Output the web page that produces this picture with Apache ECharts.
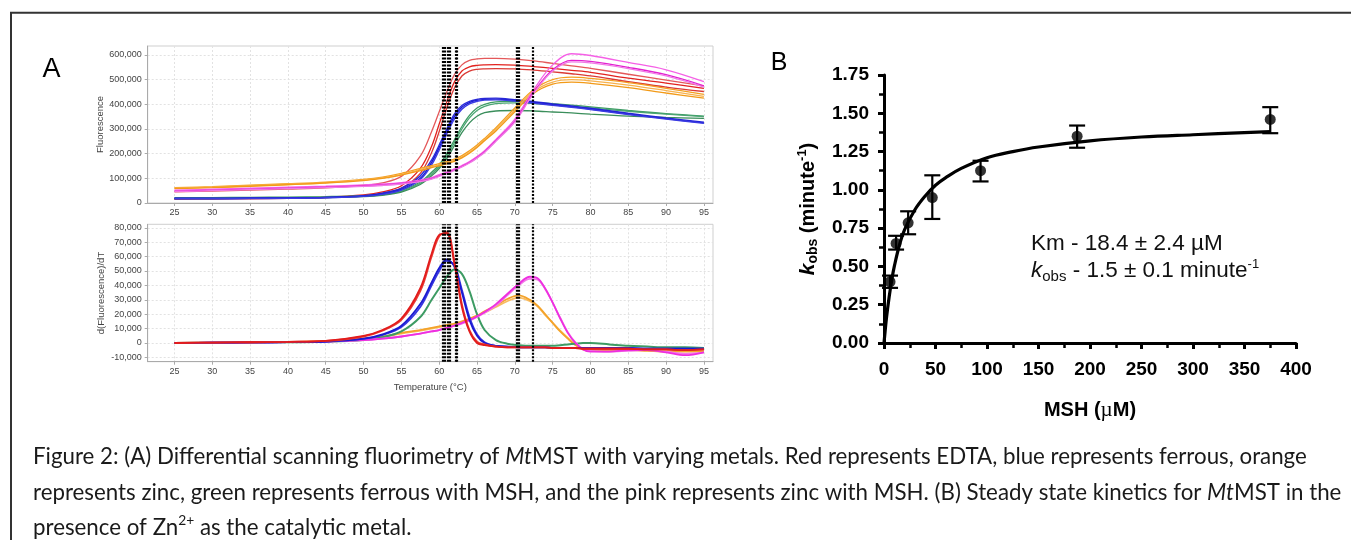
<!DOCTYPE html>
<html><head><meta charset="utf-8">
<script src="https://cdn.jsdelivr.net/npm/echarts@6/dist/echarts.min.js"></script>
<style>html,body{margin:0;padding:0;background:#fff}#c{width:1351px;height:540px}</style>
</head><body><div id="c"></div>
<script>
// ---------- Panel A: tick labels ----------
const tempTicks = [25,30,35,40,45,50,55,60,65,70,75,80,85,90,95];
const fluoTicks = [0,100,200,300,400,500,600];            // thousands
const derivTicks = [-10,0,10,20,30,40,50,60,70,80];       // thousands
const tmLines = [60.5,60.75,61.15,61.35,62.15,62.35,70.25,70.5,72.35];

// ---------- Panel A top: fluorescence (thousands) ----------
const T = [25,30,35,40,45,50,52.5,55,57.5,59,60,61,62,63,64,65,66,67.5,70,72.5,75,77.5,80,85,90,95];
const fRed1 = [45,48,52,56,61,72,82,108,190,290,370,450,520,560,578,584,586,586,583,576,566,556,546,522,498,475];
const fRed2 = [17,18,19,21,24,33,45,70,140,230,320,410,490,535,552,558,560,561,559,553,546,538,530,506,486,465];
const fRed3 = [15,16,17,19,22,30,40,60,120,205,290,385,465,515,535,542,544,545,544,539,532,524,515,492,470,452];
const fBlue1 = [19,19,20,21,23,30,40,60,110,175,235,300,360,395,412,420,424,425,419,411,402,393,384,364,345,328];
const fBlue2 = [18,18,19,20,22,28,37,55,100,165,225,290,350,388,407,416,420,421,416,408,399,390,381,361,342,325];
const fBlue3 = [17,17,18,19,21,27,35,52,95,155,215,280,340,380,402,412,417,418,413,405,396,388,379,359,340,323];
const fGreen1 = [22,22,23,24,26,30,36,50,85,125,155,200,255,310,355,385,400,410,412,408,403,397,390,375,362,352];
const fGreen2 = [20,20,21,22,24,28,34,47,80,118,148,190,245,300,345,375,392,403,406,403,398,392,386,372,360,350];
const fGreen3 = [18,18,19,20,22,26,31,44,75,110,140,180,232,285,325,352,366,373,375,373,369,365,360,352,347,343];
const fOrange1 = [62,66,72,78,85,96,105,120,140,152,160,168,178,192,212,235,262,305,385,460,500,510,505,488,465,440];
const fOrange2 = [60,64,70,76,83,93,102,116,135,147,155,163,173,187,206,229,256,298,377,452,490,500,495,478,456,432];
const fOrange3 = [58,62,68,74,81,91,100,113,131,143,151,159,169,183,202,225,252,292,370,445,482,490,485,468,446,425];
const fPink1 = [52,56,60,64,68,73,77,83,93,103,115,125,138,152,168,188,212,258,340,460,560,605,598,570,540,492];
const fPink2 = [48,52,56,60,64,69,73,79,89,99,110,121,134,148,164,184,208,253,332,450,540,578,574,550,520,475];
const fPink3 = [46,50,54,58,62,67,71,77,87,97,108,119,132,146,162,182,205,250,328,445,535,572,568,545,515,470];

// ---------- Panel A bottom: d(Fluorescence)/dT (thousands) ----------
const T2 = [25,30,35,40,45,50,52.5,55,57.5,59,60,61,62,63,64,65,66,67.5,69,70.5,72,73,74,75,76,77,78,79,80,82.5,85,87.5,90,92.5,95];
const dRed1 = [0,0.3,0.5,0.8,1.5,5,9,17,38,62,75,76,55,25,8,0,-1.5,-2.5,-3,-3,-3,-3,-3,-3.5,-3.5,-3.5,-3.5,-4,-4,-4,-4,-4.5,-4.5,-5,-4.5];
const dRed2 = [0,0.3,0.5,0.8,1.4,4.5,8.5,16,36,60,74,77,57,27,9,1,-1,-2.5,-3,-3,-3,-3,-3,-3.5,-3.5,-3.5,-3.5,-4,-4,-4,-4,-4.5,-4.5,-5,-4.5];
const dBlue1 = [0,0.2,0.4,0.6,1,3,6,12,27,42,52,58,53,35,16,5,0,-2,-2.5,-3,-3,-3,-3,-3.5,-3.5,-3.5,-3.5,-3.5,-3.5,-3.5,-3.5,-4,-4,-4,-4];
const dBlue2 = [0,0.2,0.4,0.6,1,2.8,5.5,11,25,40,50,57,54,37,18,6,0.5,-2,-2.5,-3,-3,-3,-3,-3.5,-3.5,-3.5,-3.5,-3.5,-3.5,-3.5,-3.5,-4,-4,-4,-4];
const dGreen = [0,0.2,0.3,0.5,0.8,2,4,8,18,30,38,46,51,48,36,20,9,2,-0.5,-1.5,-2,-2,-2,-2,-1.5,-1,-0.5,0,0,-1,-2,-2.5,-3,-3,-3.5];
const dOrange1 = [0,0.2,0.4,0.7,1.2,3,4.5,7,9,10.5,11.5,12.5,13.5,15,17,19,22,26,30.5,33,30,26,20,14,8,3,-1.5,-4.5,-5.5,-5.5,-5,-5.5,-6,-6,-6];
const dOrange2 = [0,0.2,0.4,0.7,1.2,2.8,4.2,6.5,8.5,10,11,12,13,14.5,16.5,18.5,21,25,29,31.5,29,25.5,19.5,14,8.5,3.5,-1,-4,-5,-5,-4.5,-5,-5.5,-5.5,-5.5];
const dPink1 = [0,0.2,0.4,0.6,1,2,3,4.5,6.5,8,9,10.5,12,14,16,18.5,21.5,27,34,41,46,45,38,28,17,7,0,-4.5,-6,-6,-5,-5,-6.5,-8.5,-6.5];
const dPink2 = [0,0.2,0.4,0.6,1,2,3,4.5,6.5,8,9,10.5,12,13.5,15.5,18,21,26,33,40,44.5,44,37.5,28,17.5,7.5,0.5,-4,-5.5,-6,-5.5,-5,-6,-7.5,-6.5];

// ---------- Panel B: steady-state kinetics ----------
const bX = [5.86, 11.72, 23.44, 46.88, 93.75, 187.5, 375];
const bY = [0.40, 0.65, 0.785, 0.95, 1.125, 1.35, 1.46];
const bLo = [0.36, 0.61, 0.71, 0.81, 1.055, 1.275, 1.37];
const bHi = [0.44, 0.70, 0.86, 1.095, 1.19, 1.42, 1.54];
const fitX = [0, 1, 2.5, 5, 7.5, 10, 15, 20, 30, 40, 50, 60, 75, 100, 125, 150, 200, 250, 300, 375];
const fitY = [0, 0.07, 0.17, 0.30, 0.41, 0.50, 0.64, 0.74, 0.87, 0.96, 1.03, 1.08, 1.14, 1.21, 1.25, 1.28, 1.32, 1.345, 1.36, 1.38];

// ---------- build ----------
const chart = echarts.init(document.getElementById('c'), null, {renderer: 'canvas'});
const SANS = '"Liberation Sans", Arial, sans-serif';
const gridLine = {show: true, lineStyle: {color: '#e2e2e2', type: [2, 2], width: 1}};
const smallLabel = {color: '#444', fontSize: 9, fontFamily: SANS};
const fmtK = v => (Math.round(v * 1000)).toLocaleString('en-US');

function aLine(x, arr, color, w, idx, extra) {
  return Object.assign({
    type: 'line', xAxisIndex: idx, yAxisIndex: idx,
    data: x.map((t, i) => [t, arr[i]]),
    smooth: 0.35, showSymbol: false, symbol: 'none', silent: true,
    lineStyle: {color: color, width: w}, itemStyle: {color: color}, z: 2
  }, extra || {});
}
const tmMark = {
  silent: true, symbol: ['none', 'none'], label: {show: false}, animation: false,
  lineStyle: {color: '#000', width: 2.2, type: [2, 1.5]},
  data: tmLines.map(v => ({xAxis: v}))
};

// caption font
const capSize = 22.3;
const capFont = capSize + 'px Lato';
const capRich = {
  i: {fontStyle: 'italic', fontSize: capSize, fontFamily: 'Lato', fill: '#1a1a1a', lineHeight: capSize * 1.3},
  n: {fontSize: capSize, fontFamily: 'Lato', fill: '#1a1a1a', lineHeight: capSize * 1.3},
  sup: {fontSize: capSize * 0.62, fontFamily: 'Lato', fill: '#1a1a1a', verticalAlign: 'top', lineHeight: capSize * 0.75}
};

const option = {
  animation: false,
  backgroundColor: '#fff',
  grid: [
    {left: 147.7, top: 46, width: 565.3, height: 157, show: true, borderColor: '#cfcfcf', borderWidth: 1, outerBoundsMode: 'none', containLabel: false},
    {left: 147.7, top: 224.3, width: 565.3, height: 137.4, show: true, borderColor: '#cfcfcf', borderWidth: 1, outerBoundsMode: 'none', containLabel: false},
    {left: 884, top: 75, width: 412, height: 268, outerBoundsMode: 'none', containLabel: false}
  ],
  xAxis: [
    {gridIndex: 0, type: 'value', min: 21.46, max: 96.2,
      axisLine: {show: true, onZero: false, lineStyle: {color: '#aaa'}},
      axisTick: {show: true, length: 3, customValues: tempTicks, lineStyle: {color: '#aaa'}},
      axisLabel: Object.assign({margin: 5, customValues: tempTicks}, smallLabel),
      splitLine: gridLine},
    {gridIndex: 1, type: 'value', min: 21.46, max: 96.2,
      name: 'Temperature (°C)', nameLocation: 'middle', nameGap: 21,
      nameTextStyle: {color: '#444', fontSize: 9.5, fontFamily: SANS},
      axisLine: {show: true, onZero: false, lineStyle: {color: '#aaa'}},
      axisTick: {show: true, length: 3, customValues: tempTicks, lineStyle: {color: '#aaa'}},
      axisLabel: Object.assign({margin: 5, customValues: tempTicks}, smallLabel),
      splitLine: gridLine},
    {gridIndex: 2, type: 'value', min: 0, max: 400, interval: 50,
      name: '{b|MSH (}{mu|µ}{b|M)}', nameLocation: 'middle', nameGap: 57,
      nameTextStyle: {rich: {
        b: {fontSize: 20, fontWeight: 'bold', fontFamily: SANS, color: '#000'},
        mu: {fontSize: 21, fontFamily: '"Liberation Serif", serif', color: '#000'}
      }},
      axisLine: {show: true, onZero: false, lineStyle: {color: '#000', width: 3}},
      axisTick: {show: true, length: 6, lineStyle: {color: '#000', width: 3}},
      minorTick: {show: true, splitNumber: 2, length: 5, lineStyle: {color: '#000', width: 2.5}},
      axisLabel: {margin: 17, color: '#000', fontSize: 19, fontWeight: 'bold', fontFamily: SANS},
      splitLine: {show: false}}
  ],
  yAxis: [
    {gridIndex: 0, type: 'value', min: 0, max: 636.5,
      name: 'Fluorescence', nameLocation: 'middle', nameGap: 41,
      nameTextStyle: {color: '#444', fontSize: 9.5, fontFamily: SANS},
      axisLine: {show: true, onZero: false, lineStyle: {color: '#aaa'}},
      axisTick: {show: true, length: 3, customValues: fluoTicks, lineStyle: {color: '#aaa'}},
      axisLabel: Object.assign({margin: 6, customValues: fluoTicks, formatter: fmtK}, smallLabel),
      splitLine: gridLine},
    {gridIndex: 1, type: 'value', min: -13, max: 82.4,
      name: 'd(Fluorescence)/dT', nameLocation: 'middle', nameGap: 41,
      nameTextStyle: {color: '#444', fontSize: 9.5, fontFamily: SANS},
      axisLine: {show: true, onZero: false, lineStyle: {color: '#aaa'}},
      axisTick: {show: true, length: 3, customValues: derivTicks, lineStyle: {color: '#aaa'}},
      axisLabel: Object.assign({margin: 6, customValues: derivTicks, formatter: fmtK}, smallLabel),
      splitLine: gridLine},
    {gridIndex: 2, type: 'value', min: 0, max: 1.75, interval: 0.25,
      name: '{ki|k}{sub|obs}{b| (minute}{sup|-1}{b|)}', nameLocation: 'middle', nameGap: 64,
      nameTextStyle: {rich: {
        ki: {fontSize: 21, fontWeight: 'bold', fontStyle: 'italic', fontFamily: SANS, color: '#000', lineHeight: 24},
        sub: {fontSize: 14, fontWeight: 'bold', fontFamily: SANS, color: '#000', verticalAlign: 'bottom', lineHeight: 14},
        b: {fontSize: 20, fontWeight: 'bold', fontFamily: SANS, color: '#000', lineHeight: 24},
        sup: {fontSize: 13, fontWeight: 'bold', fontFamily: SANS, color: '#000', verticalAlign: 'top', lineHeight: 13}
      }},
      axisLine: {show: true, onZero: false, lineStyle: {color: '#000', width: 3}},
      axisTick: {show: true, length: 6, lineStyle: {color: '#000', width: 3}},
      minorTick: {show: true, splitNumber: 2, length: 5, lineStyle: {color: '#000', width: 2.5}},
      axisLabel: {margin: 15, color: '#000', fontSize: 19, fontWeight: 'bold', fontFamily: SANS, formatter: v => v.toFixed(2)},
      splitLine: {show: false}}
  ],
  series: [
    aLine(T, fRed1, '#e4585a', 1.3, 0),
    aLine(T, fRed2, '#e2231f', 1.3, 0),
    aLine(T, fRed3, '#da3a35', 1.3, 0),
    aLine(T, fGreen1, '#3d9b63', 1.3, 0),
    aLine(T, fGreen2, '#4ba673', 1.3, 0),
    aLine(T, fGreen3, '#3a8e5b', 1.3, 0),
    aLine(T, fBlue1, '#2b2bda', 1.4, 0),
    aLine(T, fBlue2, '#1b1bd0', 1.4, 0),
    aLine(T, fBlue3, '#3b3be2', 1.4, 0),
    aLine(T, fOrange1, '#f4a021', 1.3, 0),
    aLine(T, fOrange2, '#f7b24e', 1.3, 0),
    aLine(T, fOrange3, '#f29a18', 1.3, 0),
    aLine(T, fPink1, '#f560e6', 1.3, 0),
    aLine(T, fPink2, '#e321d0', 1.3, 0),
    aLine(T, fPink3, '#f07ae6', 1.3, 0, {markLine: tmMark}),

    aLine(T2, dOrange2, '#f8bc62', 1.8, 1),
    aLine(T2, dOrange1, '#f4a32a', 1.8, 1),
    aLine(T2, dGreen, '#3d9b63', 2, 1),
    aLine(T2, dPink2, '#f27ae8', 1.8, 1),
    aLine(T2, dPink1, '#ee2fe0', 1.8, 1),
    aLine(T2, dBlue2, '#3838e0', 1.8, 1),
    aLine(T2, dBlue1, '#1a1ad2', 1.8, 1),
    aLine(T2, dRed2, '#ea3a34', 1.8, 1),
    aLine(T2, dRed1, '#e21c1c', 1.8, 1, {markLine: tmMark}),

    {type: 'line', xAxisIndex: 2, yAxisIndex: 2, data: fitX.map((x, i) => [x, fitY[i]]),
      smooth: 0.4, showSymbol: false, symbol: 'none', silent: true,
      lineStyle: {color: '#000', width: 3.2}, z: 3},
    {type: 'custom', xAxisIndex: 2, yAxisIndex: 2, silent: true, z: 4,
      data: bX.map((x, i) => [x, bLo[i], bHi[i]]),
      renderItem: (params, api) => {
        const x = api.value(0);
        const lo = api.coord([x, api.value(1)]);
        const hi = api.coord([x, api.value(2)]);
        const w = 8;
        const st = {stroke: '#000', lineWidth: 2.2};
        return {type: 'group', children: [
          {type: 'line', shape: {x1: lo[0], y1: lo[1], x2: hi[0], y2: hi[1]}, style: st},
          {type: 'line', shape: {x1: lo[0] - w, y1: lo[1], x2: lo[0] + w, y2: lo[1]}, style: st},
          {type: 'line', shape: {x1: hi[0] - w, y1: hi[1], x2: hi[0] + w, y2: hi[1]}, style: st}
        ]};
      }},
    {type: 'scatter', xAxisIndex: 2, yAxisIndex: 2, silent: true, z: 5,
      data: bX.map((x, i) => [x, bY[i]]), symbol: 'circle', symbolSize: 11,
      itemStyle: {color: '#000'}}
  ],
  graphic: [
    {type: 'rect', shape: {x: 11, y: 12.7, width: 1400, height: 600}, style: {fill: 'none', stroke: '#333', lineWidth: 2}, silent: true},
    {type: 'text', x: 51.5, y: 70, style: {text: 'A', font: '27px ' + SANS, fill: '#000', align: 'center', verticalAlign: 'middle'}},
    {type: 'text', x: 779, y: 63, style: {text: 'B', font: '25px ' + SANS, fill: '#000', align: 'center', verticalAlign: 'middle'}},
    {type: 'text', x: 1031, y: 244, style: {text: 'Km - 18.4 ± 2.4 µM', font: '22.5px ' + SANS, fill: '#111', verticalAlign: 'middle'}},
    {type: 'text', x: 1031, y: 271, style: {
      text: '{ki|k}{sub|obs}{n| - 1.5 ± 0.1 minute}{sup|-1}', verticalAlign: 'middle',
      rich: {
        ki: {fontSize: 22.5, fontStyle: 'italic', fontFamily: SANS, fill: '#111', lineHeight: 26},
        sub: {fontSize: 15, fontFamily: SANS, fill: '#111', verticalAlign: 'bottom', lineHeight: 15},
        n: {fontSize: 22.5, fontFamily: SANS, fill: '#111', lineHeight: 26},
        sup: {fontSize: 13, fontFamily: SANS, fill: '#111', verticalAlign: 'top', lineHeight: 13}
      }}},
    {type: 'text', x: 33, y: 457, style: {text: '{n|Figure 2: (A) Differential scanning fluorimetry of }{i|Mt}{n|MST with varying metals. Red represents EDTA, blue represents ferrous, orange}', verticalAlign: 'middle', font: capFont, rich: capRich}},
    {type: 'text', x: 33, y: 493, style: {text: '{n|represents zinc, green represents ferrous with MSH, and the pink represents zinc with MSH. (B) Steady state kinetics for }{i|Mt}{n|MST in the}', verticalAlign: 'middle', font: capFont, rich: capRich}},
    {type: 'text', x: 33, y: 528, style: {text: '{n|presence of Zn}{sup|2+}{n| as the catalytic metal.}', verticalAlign: 'middle', font: capFont, rich: capRich}}
  ]
};
chart.setOption(option);
</script></body></html>
